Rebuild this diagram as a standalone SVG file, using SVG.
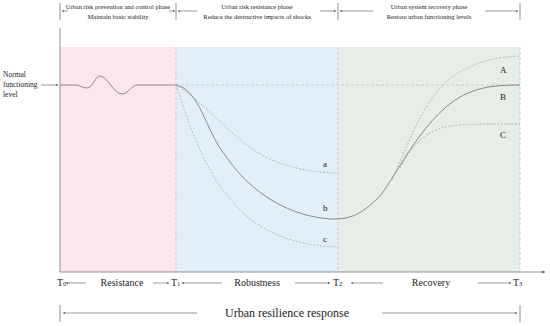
<svg xmlns="http://www.w3.org/2000/svg" width="550" height="326" viewBox="0 0 550 326">
<style>
text{font-family:"Liberation Serif","Times New Roman",serif;fill:#222}
.hd{font-size:6.5px;text-anchor:middle}
.lb{font-size:10px}
.ax{stroke:#777;stroke-width:0.8;fill:none}
.ar{stroke:#555;stroke-width:0.6;fill:none;marker-end:url(#ah)}
.dl{stroke:#bbb;stroke-width:0.7;stroke-dasharray:3 2;fill:none}
.dc{stroke:#aaa;stroke-width:0.8;stroke-dasharray:2 1.5;fill:none}
.sc{stroke:#8a8a8a;stroke-width:1;fill:none}
</style>
<defs>
<marker id="ah" viewBox="0 0 6 6" refX="6" refY="3" markerWidth="4" markerHeight="4" orient="auto"><path d="M0,0 L6,3 L0,6 z" fill="#555"/></marker>
</defs>
<g id="bands">
<rect x="60" y="47" width="116" height="225" fill="#fbe6ed"/>
<rect x="176" y="47" width="162" height="225" fill="#e3eff8"/>
<rect x="338" y="47" width="182" height="225" fill="#e6eee7"/>
</g>
<g id="axes">
<line class="ax" x1="60" y1="28" x2="60" y2="272"/>
<line class="ax" x1="60" y1="272" x2="545" y2="272" marker-end="url(#ah)"/>
<line class="dl" x1="176" y1="47" x2="176" y2="272"/>
<line class="dl" x1="338" y1="47" x2="338" y2="272"/>
<line class="dl" x1="520" y1="47" x2="520" y2="272"/>
<line class="dl" x1="176" y1="85" x2="520" y2="85"/>
</g>
<g id="header">
<line class="ax" x1="60" y1="3" x2="60" y2="20"/>
<line class="ax" x1="176" y1="3" x2="176" y2="20"/>
<line class="ax" x1="338" y1="3" x2="338" y2="20"/>
<line class="ax" x1="520" y1="3" x2="520" y2="20"/>
<line class="ar" x1="68" y1="11" x2="62" y2="11"/>
<line class="ar" x1="169" y1="11" x2="175" y2="11"/>
<text class="hd" x="118" y="9">Urban risk prevention and control phase</text>
<text class="hd" x="118" y="18.5">Maintain basic stability</text>
<line class="ar" x1="197" y1="11" x2="178" y2="11"/>
<line class="ar" x1="320" y1="11" x2="336" y2="11"/>
<text class="hd" x="257" y="9">Urban risk resistance phase</text>
<text class="hd" x="257" y="18.5">Reduce the destructive impacts of shocks</text>
<line class="ar" x1="373" y1="11" x2="340" y2="11"/>
<line class="ar" x1="485" y1="11" x2="518" y2="11"/>
<text class="hd" x="429" y="9">Urban system recovery phase</text>
<text class="hd" x="429" y="18.5">Restore urban functioning levels</text>
</g>
<g id="normal-level">
<text x="3" y="77" font-size="7.5">Normal</text>
<text x="3" y="87" font-size="7.5">functioning</text>
<text x="3" y="97" font-size="7.5">level</text>
<line class="ar" x1="41" y1="85" x2="58" y2="85"/>
</g>
<g id="connectors">
<path id="curve-b" class="sc" d="M60,85 L76,85 C80,85 82,88 87,88 C93,88 95,76 100,76 C107,76 114,94 122,94 C128,94 131,85 138,85 L176,85 C200,90 205,130 225,155 C245,185 280,215 330,219 C355,220 365,210 378,198 C391,186 420,120 460,97 C475,89 488,85 520,85"/>
<path id="curve-a" class="dc" d="M176,85 C215,110 240,150 280,163 C300,170 320,173 338,173"/>
<path id="curve-c" class="dc" d="M176,85 C185,110 200,170 240,210 C265,235 300,246 338,247"/>
<path id="curve-A" class="dc" d="M392,180 C410,140 425,95 455,75 C475,62 495,57 520,56"/>
<path id="curve-C" class="dc" d="M400,168 C412,145 425,132 445,127 C460,124 480,124 520,124"/>
</g>
<g id="curve-labels" font-size="9">
<text x="323" y="167" font-size="9">a</text>
<text x="323" y="211" font-size="9">b</text>
<text x="323" y="242" font-size="9">c</text>
<text x="500" y="73" font-size="9">A</text>
<text x="500" y="100" font-size="9">B</text>
<text x="500" y="138" font-size="9">C</text>
</g>
<g id="timeline">
<text class="lb" x="57" y="286">T<tspan font-size="6.5">0</tspan></text>
<line class="ar" x1="86" y1="283" x2="66" y2="283"/>
<text class="lb" x="122" y="286" text-anchor="middle">Resistance</text>
<line class="ar" x1="153" y1="283" x2="169" y2="283"/>
<text class="lb" x="171" y="286">T<tspan font-size="6.5">1</tspan></text>
<line class="ar" x1="222" y1="283" x2="182" y2="283"/>
<text class="lb" x="257" y="286" text-anchor="middle">Robustness</text>
<line class="ar" x1="295" y1="283" x2="330" y2="283"/>
<text class="lb" x="333" y="286">T<tspan font-size="6.5">2</tspan></text>
<line class="ar" x1="383" y1="283" x2="351" y2="283"/>
<text class="lb" x="431" y="286" text-anchor="middle">Recovery</text>
<line class="ar" x1="478" y1="283" x2="511" y2="283"/>
<text class="lb" x="513" y="286">T<tspan font-size="6.5">3</tspan></text>
</g>
<g id="response">
<line class="ax" x1="60" y1="305" x2="60" y2="322"/>
<line class="ax" x1="520" y1="305" x2="520" y2="322"/>
<line class="ar" x1="197" y1="313" x2="63" y2="313"/>
<line class="ar" x1="382" y1="313" x2="517" y2="313"/>
<text x="287" y="317" font-size="12" text-anchor="middle">Urban resilience response</text>
</g>
</svg>
